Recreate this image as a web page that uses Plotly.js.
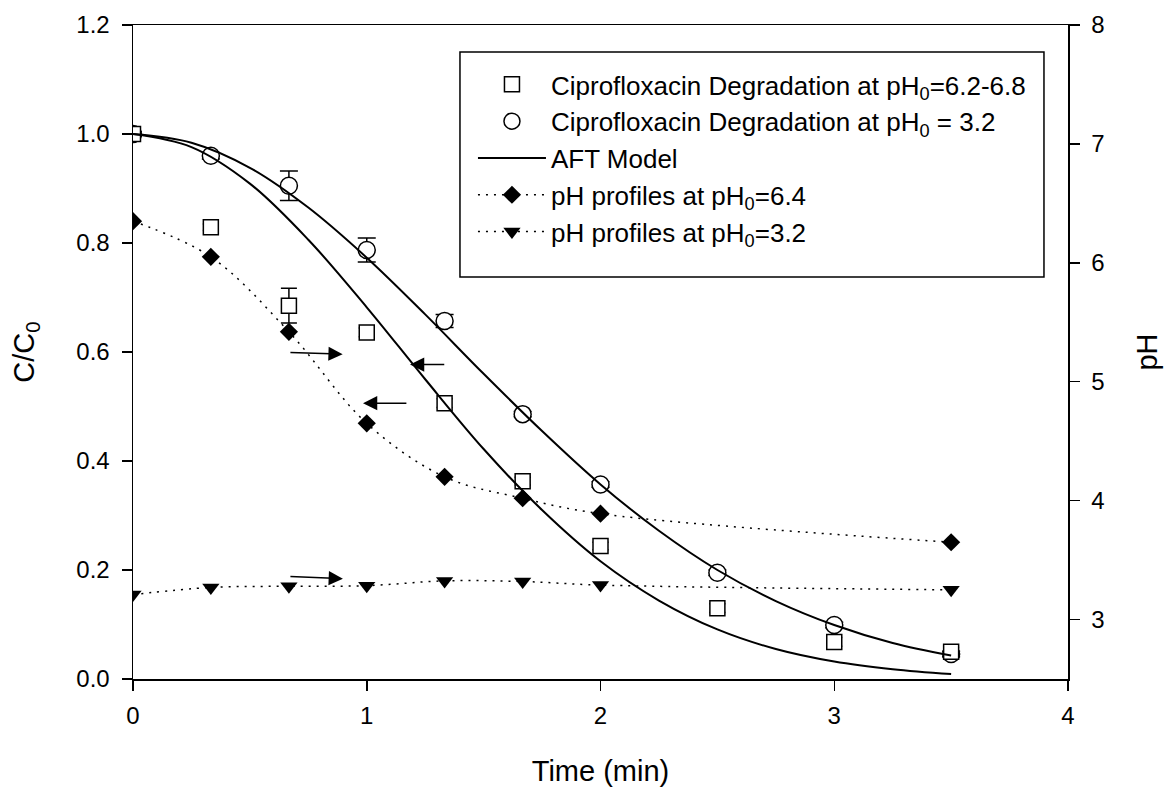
<!DOCTYPE html>
<html>
<head>
<meta charset="utf-8">
<script src="https://cdn.plot.ly/plotly-3.0.1.min.js"></script>
<style>html,body{margin:0;padding:0;background:#fff;}#chart{width:1165px;height:787px;}</style>
</head>
<body>
<div id="chart"></div>
<script>
// Sampling times (min)
var timeCipro = [0, 0.333, 0.667, 1.0, 1.333, 1.667, 2.0, 2.5, 3.0, 3.5];
// C/C0 at pH0 = 6.2-6.8 (squares)
var cSquares = [1.0, 0.829, 0.685, 0.636, 0.506, 0.363, 0.244, 0.130, 0.068, 0.050];
var errSquares = [0.006, 0.006, 0.032, 0.008, 0.008, 0.007, 0.007, 0.008, 0.008, 0.008];
// C/C0 at pH0 = 3.2 (circles)
var cCircles = [1.0, 0.960, 0.905, 0.787, 0.657, 0.486, 0.357, 0.195, 0.099, 0.046];
var errCircles = [0.004, 0.006, 0.027, 0.022, 0.012, 0.005, 0.005, 0.005, 0.005, 0.005];
// AFT model curves
var timeModel = [0, 0.25, 0.5, 0.75, 1.0, 1.25, 1.5, 1.75, 2.0, 2.25, 2.5, 2.75, 3.0, 3.25, 3.5];
var modelLow = [1.0, 0.976, 0.909, 0.806, 0.682, 0.550, 0.422, 0.310, 0.216, 0.144, 0.091, 0.055, 0.032, 0.018, 0.009];
var modelHigh = [1.0, 0.984, 0.938, 0.865, 0.773, 0.669, 0.560, 0.455, 0.357, 0.272, 0.200, 0.143, 0.099, 0.066, 0.043];
// pH profiles
var timePH = [0, 0.333, 0.667, 1.0, 1.333, 1.667, 2.0, 3.5];
var pHHigh = [6.35, 6.05, 5.42, 4.65, 4.20, 4.02, 3.89, 3.65];
var pHLow = [3.21, 3.27, 3.28, 3.285, 3.325, 3.32, 3.29, 3.25];

var FONT = '"Liberation Sans", Arial, Helvetica, sans-serif';
var black = '#000000';

var traces = [
  {
    x: timeCipro, y: cCircles, type: 'scatter', mode: 'markers',
    name: 'Ciprofloxacin Degradation at pH<sub>0</sub> = 3.2',
    marker: {symbol: 'circle', size: 17, color: '#ffffff', line: {width: 1.5, color: black}},
    error_y: {type: 'data', array: errCircles, visible: true, color: black, thickness: 1.5, width: 9},
    legendrank: 2
  },
  {
    x: timeCipro, y: cSquares, type: 'scatter', mode: 'markers',
    name: 'Ciprofloxacin Degradation at pH<sub>0</sub>=6.2-6.8',
    marker: {symbol: 'square', size: 15, color: '#ffffff', line: {width: 1.5, color: black}},
    error_y: {type: 'data', array: errSquares, visible: true, color: black, thickness: 1.5, width: 8},
    legendrank: 1
  },
  {
    x: timeModel, y: modelHigh, type: 'scatter', mode: 'lines',
    name: 'AFT Model',
    line: {color: black, width: 2, shape: 'spline'},
    legendrank: 3
  },
  {
    x: timeModel, y: modelLow, type: 'scatter', mode: 'lines',
    name: 'AFT Model', showlegend: false,
    line: {color: black, width: 2, shape: 'spline'}
  },
  {
    x: timePH, y: pHHigh, type: 'scatter', mode: 'lines+markers', yaxis: 'y2',
    name: 'pH profiles at pH<sub>0</sub>=6.4',
    line: {color: black, width: 1.5, dash: '2px,6px', shape: 'spline'},
    marker: {symbol: 'diamond', size: 14, color: black},
    legendrank: 4
  },
  {
    x: timePH, y: pHLow, type: 'scatter', mode: 'lines+markers', yaxis: 'y2',
    name: 'pH profiles at pH<sub>0</sub>=3.2',
    line: {color: black, width: 1.5, dash: '2px,6px', shape: 'spline'},
    marker: {symbol: 'triangle-down', size: 15, color: black},
    legendrank: 5
  }
];

function arrow(hx, hy, tx, ty) {
  return {x: hx, y: hy, ax: tx, ay: ty, xref: 'x', yref: 'y', axref: 'x', ayref: 'y',
          text: '', showarrow: true, arrowhead: 2, arrowsize: 1.9, arrowwidth: 1.5, arrowcolor: black};
}

var layout = {
  width: 1165, height: 787,
  margin: {l: 133, r: 97, t: 25, b: 108},
  paper_bgcolor: '#ffffff', plot_bgcolor: '#ffffff',
  font: {family: FONT, size: 24, color: black},
  showlegend: true,
  legend: {
    x: 0.3529, y: 0.945, xanchor: 'left', yanchor: 'top',
    borderwidth: 0, bgcolor: 'rgba(0,0,0,0)',
    font: {family: FONT, size: 26, color: black},
    traceorder: 'normal', itemwidth: 68, indentation: 10,
    itemclick: false
  },
  shapes: [
    {type: 'rect', xref: 'paper', yref: 'paper', x0: 0.3497, x1: 0.9743, y0: 0.6147, y1: 0.9587,
     line: {color: black, width: 1.5}, fillcolor: '#ffffff', layer: 'below'}
  ],
  xaxis: {
    range: [0, 4], dtick: 1, tick0: 0,
    showgrid: false, zeroline: false,
    showline: true, linecolor: black, linewidth: 1.5, mirror: true,
    ticks: 'outside', ticklen: 10, tickwidth: 1.5, tickcolor: black, ticklabelstandoff: 5,
    tickfont: {family: FONT, size: 24, color: black},
    title: {text: 'Time (min)', font: {family: FONT, size: 29, color: black}, standoff: 32}
  },
  yaxis: {
    range: [0, 1.2], dtick: 0.2, tick0: 0, tickformat: '.1f',
    showgrid: false, zeroline: false,
    showline: true, linecolor: black, linewidth: 1.5,
    ticks: 'outside', ticklen: 10, tickwidth: 1.5, tickcolor: black, ticklabelstandoff: 7,
    tickfont: {family: FONT, size: 24, color: black},
    title: {text: 'C/C<sub>0</sub>', font: {family: FONT, size: 29, color: black}, standoff: 33}
  },
  yaxis2: {
    range: [2.5, 8], dtick: 1, tick0: 3,
    overlaying: 'y', side: 'right',
    showgrid: false, zeroline: false,
    showline: true, linecolor: black, linewidth: 1.5,
    ticks: 'outside', ticklen: 10, tickwidth: 1.5, tickcolor: black, ticklabelstandoff: 7,
    tickfont: {family: FONT, size: 24, color: black},
    title: {text: 'pH', font: {family: FONT, size: 29, color: black}, standoff: 33}
  },
  annotations: [
    arrow(0.897, 0.596, 0.667, 0.599),
    arrow(1.185, 0.577, 1.338, 0.577),
    arrow(0.984, 0.506, 1.176, 0.506),
    arrow(0.898, 0.184, 0.667, 0.188)
  ]
};

Plotly.newPlot('chart', traces, layout, {staticPlot: true, displayModeBar: false});
</script>
</body>
</html>
